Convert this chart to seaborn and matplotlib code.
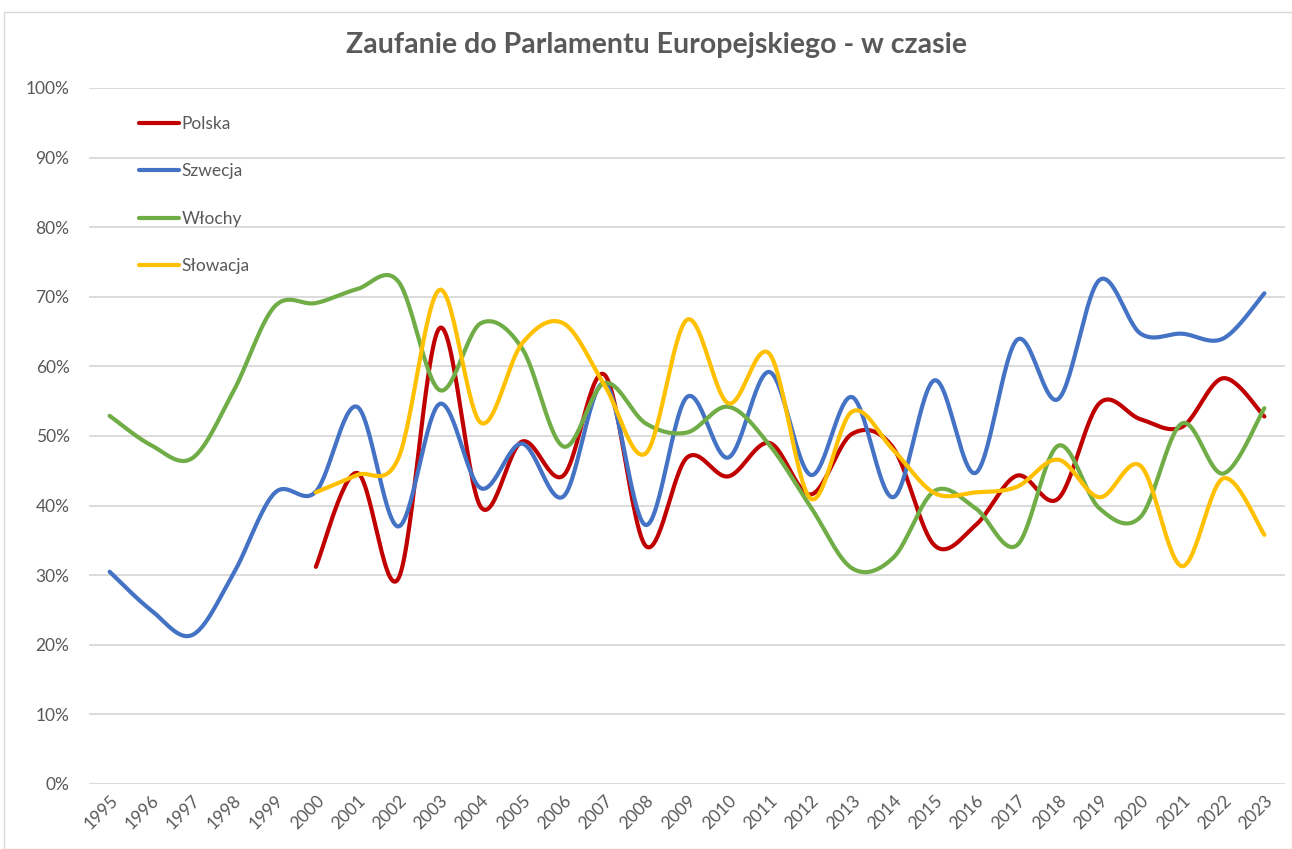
import numpy as np
import pandas as pd
import matplotlib
matplotlib.use("Agg")
import matplotlib.pyplot as plt
import seaborn as sns
from matplotlib.patches import Rectangle

years = list(range(1995, 2024))

polska = [None]*5 + [31.2, 44.7, 29.5, 65.5, 39.8, 49.2, 44.3, 58.8, 34.2, 46.9, 44.2, 49.0, 41.6,
                     50.3, 48.3, 34.3, 37.2, 44.3, 41.0, 54.7, 52.4, 51.3, 58.3, 52.8]
szwecja = [30.5, 25.0, 21.4, 30.2, 41.8, 42.0, 54.2, 37.0, 54.6, 42.5, 48.9, 41.3, 57.6, 37.2, 55.6,
           46.9, 59.2, 44.4, 55.6, 41.2, 58.0, 44.7, 63.8, 55.3, 72.4, 64.7, 64.7, 64.0, 70.5]
wlochy = [52.9, 48.7, 46.8, 56.4, 68.6, 69.1, 71.1, 72.2, 56.6, 66.2, 62.6, 48.5, 57.6, 51.8, 50.5,
          54.2, 48.7, 39.8, 31.0, 32.5, 42.1, 39.6, 34.3, 48.6, 39.6, 38.4, 51.8, 44.6, 54.0]
slowacja = [None]*5 + [41.9, 44.4, 46.8, 71.0, 51.9, 63.3, 66.2, 57.3, 47.5, 66.7, 54.7, 61.8, 41.0,
                       53.5, 48.0, 41.8, 41.9, 42.7, 46.6, 41.2, 45.7, 31.3, 43.9, 35.8]

series = {"Polska": polska, "Szwecja": szwecja, "Włochy": wlochy, "Słowacja": slowacja}
colors = {"Polska": "#C00000", "Szwecja": "#4472C4", "Włochy": "#70AD47", "Słowacja": "#FFC000"}
title = "Zaufanie do Parlamentu Europejskiego - w czasie"


def smooth(xs, ys, n=30):
    """Excel-like smoothing: cubic Bezier with control points from neighbours (Catmull-Rom)."""
    xs = np.asarray(xs, float); ys = np.asarray(ys, float)
    P = np.column_stack([xs, ys])
    out = []
    for i in range(len(P) - 1):
        p0 = P[i - 1] if i > 0 else P[i]
        p1 = P[i]; p2 = P[i + 1]
        p3 = P[i + 2] if i + 2 < len(P) else P[i + 1]
        c1 = p1 + (p2 - p0) / 6.0
        c2 = p2 - (p3 - p1) / 6.0
        t = np.linspace(0, 1, n, endpoint=(i == len(P) - 2))[:, None]
        b = (1 - t) ** 3 * p1 + 3 * (1 - t) ** 2 * t * c1 + 3 * (1 - t) * t ** 2 * c2 + t ** 3 * p2
        out.append(b)
    arr = np.vstack(out)
    return arr[:, 0], arr[:, 1]


rows = []
for name, vals in series.items():
    xs = [y for y, v in zip(years, vals) if v is not None]
    ys = [v / 100 for v in vals if v is not None]
    sx, sy = smooth(xs, ys)
    for a, b, in zip(sx, sy):
        rows.append({"Rok": a, "Wartość": b, "Kraj": name})
df = pd.DataFrame(rows)

sns.set_theme(style="white")
plt.rcParams["font.family"] = ["Lato", "DejaVu Sans"]

fig = plt.figure(figsize=(12.92, 8.49), dpi=100)
ax = fig.add_axes([89 / 1292, 1 - 784 / 849, (1285 - 89) / 1292, (784 - 88) / 849])

sns.lineplot(data=df, x="Rok", y="Wartość", hue="Kraj", palette=colors, sort=False,
             estimator=None, linewidth=3.0, ax=ax, hue_order=list(series.keys()))

ax.set_xlim(1994.5, 2023.5)
ax.set_ylim(0, 1.0)
ax.set_yticks(np.arange(0, 1.01, 0.1))
ax.set_yticklabels([f"{int(round(v * 100))}%" for v in np.arange(0, 1.01, 0.1)])
ax.set_xticks(years)
ax.set_xticklabels([str(y) for y in years], rotation=45, ha="right", rotation_mode="anchor")
ax.tick_params(axis="both", colors="#595959", labelsize=12.5, length=0)
ax.tick_params(axis="x", pad=6)
ax.tick_params(axis="y", pad=14)
ax.grid(axis="y", color="#D9D9D9", linewidth=1.3)
ax.grid(axis="x", visible=False)
ax.set_axisbelow(True)
for s in ax.spines.values():
    s.set_visible(False)
ax.set_xlabel("")
ax.set_ylabel("")

leg = ax.legend(loc="upper left", bbox_to_anchor=(0.029, 0.982), frameon=False,
                fontsize=12.5, labelspacing=1.8, handlelength=2.3, handletextpad=0.15,
                labelcolor="#595959")
for h in leg.get_lines():
    h.set_linewidth(3.0)

fig.text(656 / 1292, 1 - 45 / 849, title, ha="center", va="center", fontsize=20.5,
         fontweight="bold", color="#595959")

fig.patches.append(Rectangle((4 / 1292, 0), 1 - 4 / 1292, 1 - 12 / 849, transform=fig.transFigure,
                             fill=False, edgecolor="#D9D9D9", linewidth=1.0))

fig.savefig("out.png", dpi=100)
